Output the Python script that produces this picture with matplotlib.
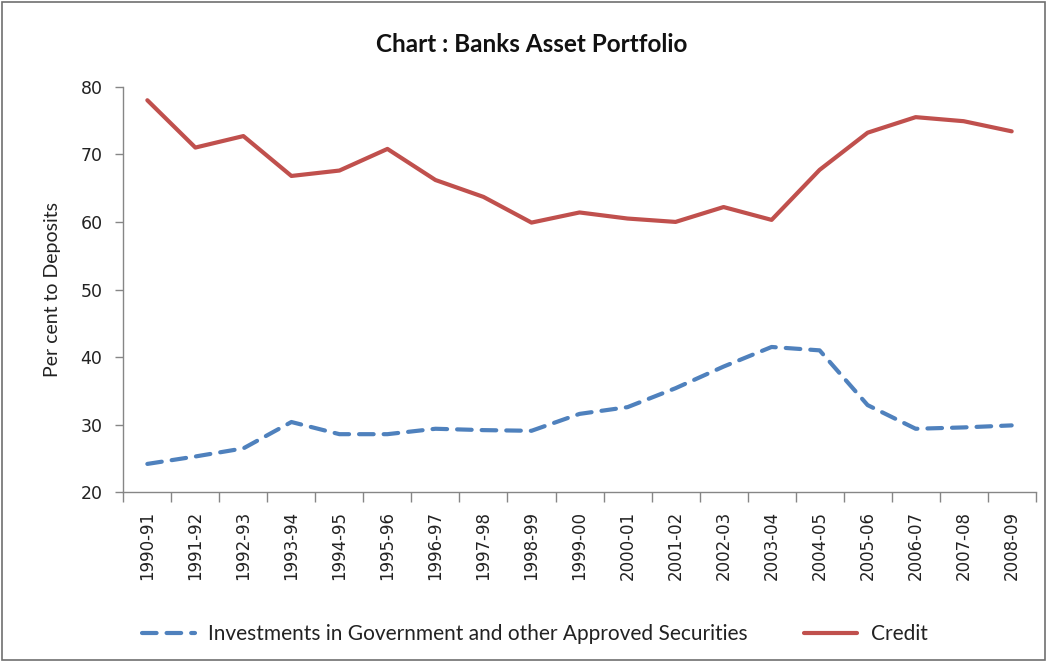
import numpy as np
import matplotlib
matplotlib.use("Agg")
import matplotlib.pyplot as plt
from matplotlib.patches import Rectangle

# data
years = ['1990-91', '1991-92', '1992-93', '1993-94', '1994-95', '1995-96',
         '1996-97', '1997-98', '1998-99', '1999-00', '2000-01', '2001-02',
         '2002-03', '2003-04', '2004-05', '2005-06', '2006-07', '2007-08',
         '2008-09']
investments = [24.2, 25.3, 26.5, 30.4, 28.6, 28.6, 29.4, 29.2, 29.1, 31.6,
               32.6, 35.4, 38.6, 41.5, 41.0, 32.9, 29.4, 29.6, 29.9]
credit = [78.0, 71.0, 72.7, 66.8, 67.6, 70.8, 66.2, 63.7, 59.9, 61.4,
          60.5, 60.0, 62.2, 60.3, 67.7, 73.2, 75.5, 74.9, 73.4]
y_ticks = [20, 30, 40, 50, 60, 70, 80]

txt_font = 'Lato'
axis_grey = '#868686'

fig = plt.figure(figsize=(10.47, 6.61), dpi=100)
ax = fig.add_axes([0.1178, 0.2552, 0.8714, 0.6136])

x = np.arange(len(years))
ax.plot(x, investments, color='#4F81BD', lw=3.0, dashes=(3.5, 2.4),
        dash_capstyle='round',
        label='Investments in Government and other Approved Securities')
ax.plot(x, credit, color='#C0504D', lw=3.0, solid_capstyle='round',
        label='Credit')

ax.set_xlim(-0.5, len(years) - 0.5)
ax.set_ylim(20, 80)
ax.set_yticks(y_ticks)
ax.tick_params(axis='y', labelsize=12.5, colors=axis_grey, labelcolor='#222222',
               length=6, width=1, direction='out', pad=9)

# category labels at centres, tick marks at the boundaries
ax.set_xticks(x)
ax.set_xticklabels(years, rotation=90, fontsize=12, color='#222222')
ax.tick_params(axis='x', which='major', length=0, pad=13.5)
ax.set_xticks(np.arange(-0.5, len(years)), minor=True)
ax.tick_params(axis='x', which='minor', length=7, width=1, colors=axis_grey,
               direction='out')

for s in ['top', 'right']:
    ax.spines[s].set_visible(False)
for s in ['left', 'bottom']:
    ax.spines[s].set_color(axis_grey)
    ax.spines[s].set_linewidth(1)

ax.set_ylabel('Per cent to Deposits', fontsize=14, family=txt_font,
              color='#222222', labelpad=14)
fig.text(0.508, 0.932, 'Chart : Banks Asset Portfolio', fontsize=17.5,
         fontweight='bold', family=txt_font, ha='center', va='center',
         color='#111111')

leg = ax.legend(loc='center', bbox_to_anchor=(0.451, -0.35), ncol=2,
                frameon=False, prop={'family': txt_font, 'size': 15},
                handlelength=2.55, columnspacing=2.7, handletextpad=0.63)
for t in leg.get_texts():
    t.set_color('#222222')

# border round the whole chart
fig.patches.append(Rectangle((0.002, 0.002), 0.996, 0.995,
                             transform=fig.transFigure, fill=False,
                             edgecolor='#6f6f6f', lw=1.2))

fig.savefig('out.png', dpi=100)
